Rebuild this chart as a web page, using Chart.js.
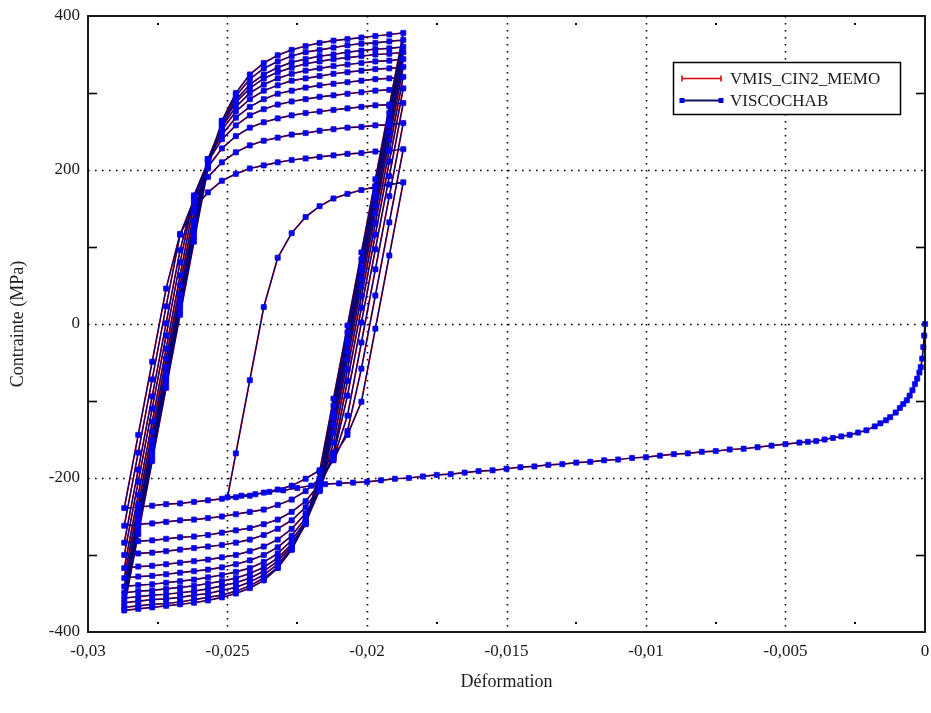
<!DOCTYPE html>
<html>
<head>
<meta charset="utf-8">
<script src="https://cdn.jsdelivr.net/npm/chart.js@4.4.1/dist/chart.umd.min.js"></script>
<style>
html,body{margin:0;padding:0;background:#fff;}
#wrap{position:relative;width:931px;height:713px;}
canvas{display:block;}
</style>
</head>
<body>
<div id="wrap"><canvas id="c" width="931" height="713" style="width:931px;height:713px"></canvas></div>
<script>
// ---------- data ----------
const seriesNames = ['VMIS_CIN2_MEMO', 'VISCOCHAB'];

// first monotonic compression (strain, stress MPa)
const monoStrain = [0,-0.00003,-0.00006,-0.0001,-0.00015,-0.0002,-0.00028,-0.00036,-0.00045,-0.00055,
  -0.00065,-0.00078,-0.0009,-0.00105,-0.00125,-0.0014,-0.0016,-0.0018,-0.0021,-0.0024,
  -0.0027,-0.003,-0.0033,-0.0036,-0.0039,-0.0042,-0.0045,-0.005,
  -0.0055,-0.006,-0.0065,-0.007,-0.0075,-0.008,-0.0085,-0.009,-0.0095,-0.01,
  -0.0105,-0.011,-0.0115,-0.012,-0.0125,-0.013,-0.0135,-0.014,-0.0145,-0.015,
  -0.0155,-0.016,-0.0165,-0.017,-0.0175,-0.018,-0.0185,-0.019,-0.0195,-0.02,
  -0.0205,-0.021,-0.0215,-0.022,-0.0225,-0.023,-0.0235,-0.024,-0.0245,-0.025];
const monoStress = [0,-15,-30,-45,-56,-63,-71,-78,-86,-93,
  -99,-104,-109,-115,-121,-125,-129,-133,-138,-141,
  -144,-146,-148,-150,-152,-153,-154,-156,
  -158,-160,-162,-163,-165,-166,-168,-169,-171,-173,
  -174,-176,-177,-179,-180,-182,-183,-185,-186,-188,
  -190,-191,-193,-195,-196,-198,-200,-201,-203,-205,
  -206,-207,-208,-210,-213,-216,-218,-221,-223,-225];

// first reversal (tension) from -0.025
const firstRiseStrain = [-0.025,-0.0247,-0.0242,-0.0237,-0.0232,-0.0227,-0.0222,-0.0217,-0.0212,-0.0207,-0.0202,-0.0197,-0.0192,-0.0187];
const firstRiseStress = [-225,-168,-73,22,86,118,139,153,163,169,174,178,181,184];

// strain stations of the cyclic branches
const riseStrain = [-0.0287,-0.0282,-0.0277,-0.0272,-0.0267,-0.0262,-0.0257,-0.0252,-0.0247,-0.0242,-0.0237,-0.0232,-0.0227,-0.0222,-0.0217,-0.0212,-0.0207,-0.0202,-0.0197,-0.0192,-0.0187];
const fallStrain = [-0.0187,-0.0192,-0.0197,-0.0202,-0.0207,-0.0212,-0.0217,-0.0222,-0.0227,-0.0232,-0.0237,-0.0242,-0.0247,-0.0252,-0.0257,-0.0262,-0.0267,-0.0272,-0.0277,-0.0282,-0.0287];

// descending branches (stress at fallStrain)
const fall1  = [184,89,-6,-101,-144,-172,-190,-201,-210,-215,-219,-223,-225,-227,-229,-231,-233,-234,-236,-238,-239];
const fall2  = [227,132,37,-58,-139,-177,-201,-217,-228,-235,-241,-244,-247,-250,-252,-254,-255,-257,-259,-260,-262];
const fall3  = [261,166,71,-24,-119,-175,-208,-230,-244,-254,-260,-265,-268,-271,-274,-276,-277,-279,-281,-282,-284];
const fall4  = [287,192,97,2,-93,-171,-212,-238,-255,-266,-274,-280,-284,-287,-289,-291,-293,-295,-297,-298,-300];
const fall5  = [306,211,116,21,-74,-167,-215,-246,-266,-280,-289,-295,-300,-303,-306,-308,-310,-312,-314,-315,-317];
const fall6  = [321,226,131,36,-59,-154,-217,-252,-275,-290,-300,-307,-312,-316,-319,-321,-323,-325,-327,-328,-330];
const fall7  = [334,239,144,49,-46,-141,-216,-256,-281,-298,-309,-317,-322,-326,-329,-332,-334,-336,-338,-339,-341];
const fall8  = [344,249,154,59,-36,-131,-216,-258,-286,-304,-316,-324,-330,-334,-337,-340,-342,-344,-346,-347,-349];
const fall9  = [353,258,163,68,-27,-122,-213,-259,-289,-308,-321,-330,-336,-340,-344,-347,-349,-351,-352,-354,-356];
const fall10 = [360,265,170,75,-20,-115,-210,-260,-292,-312,-326,-335,-342,-346,-350,-352,-355,-357,-358,-360,-362];
const fall11 = [369,274,179,84,-11,-106,-201,-259,-293,-316,-330,-340,-347,-352,-355,-358,-361,-363,-364,-366,-368];
const fall12 = [378,283,188,93,-2,-97,-192,-257,-293,-317,-333,-343,-350,-355,-359,-362,-364,-366,-368,-370,-372];

// ascending branches (stress at riseStrain)
const rise2  = [-239,-144,-49,46,117,150,171,186,195,202,206,210,213,215,217,219,221,222,224,225,227];
const rise3  = [-262,-167,-72,23,116,162,191,210,223,232,238,242,246,248,251,253,255,256,258,259,261];
const rise4  = [-284,-189,-94,1,96,166,204,228,244,255,262,267,271,274,276,278,280,282,284,285,287];
const rise5  = [-300,-205,-110,-15,80,167,211,240,258,271,279,285,289,292,295,297,299,301,303,304,306];
const rise6  = [-317,-222,-127,-32,63,158,213,246,268,282,292,299,303,307,310,312,314,316,318,319,321];
const rise7  = [-330,-235,-140,-45,50,145,214,252,276,292,303,310,316,319,322,325,327,329,331,332,334];
const rise8  = [-341,-246,-151,-56,39,134,214,256,282,300,311,319,325,329,332,335,337,339,341,342,344];
const rise9  = [-349,-254,-159,-64,31,126,214,259,288,306,319,327,333,338,341,344,346,348,350,351,353];
const rise10 = [-356,-261,-166,-71,24,119,213,260,291,311,324,333,340,344,348,350,353,355,357,358,360];
const rise11 = [-362,-267,-172,-77,18,113,208,263,296,318,332,341,348,353,356,359,362,364,365,367,369];
const rise12 = [-368,-273,-178,-83,12,107,202,264,300,324,339,349,356,361,365,368,370,372,374,376,378];

// axes
const xTicksMajor = [-0.025,-0.02,-0.015,-0.01,-0.005];
const xTicksMinor = [-0.0275,-0.0225,-0.0175,-0.0125,-0.0075,-0.0025];
const yTicksMajor = [200,0,-200];
const yTicksMinor = [300,100,-100,-300];

// ---------- build the load path ----------
function pairs(xs, ys){ return xs.map((x,i)=>({x:x, y:ys[i]})); }
const falls = [fall1,fall2,fall3,fall4,fall5,fall6,fall7,fall8,fall9,fall10,fall11,fall12];
const rises = [rise2,rise3,rise4,rise5,rise6,rise7,rise8,rise9,rise10,rise11,rise12];
const path = pairs(monoStrain, monoStress).concat(pairs(firstRiseStrain, firstRiseStress).slice(1));
falls.forEach((f,k)=>{
  path.push(...pairs(fallStrain, f).slice(1));
  if (rises[k]) path.push(...pairs(riseStrain, rises[k]).slice(1));
});

const FONT = "'Liberation Serif', 'Times New Roman', Times, serif";
function fmt(v){
  const r = Math.round(v*100000)/100000;
  return r === 0 ? '0' : String(r).replace('.', ',');
}

const deco = {
  id: 'deco',
  beforeDatasetsDraw(chart){
    const {ctx, chartArea:a, scales:{x, y}} = chart;
    ctx.save();
    ctx.strokeStyle = '#000';
    ctx.lineWidth = 1.6;
    ctx.setLineDash([1.6, 5.4]);
    xTicksMajor.forEach(v=>{
      const px = Math.round(x.getPixelForValue(v)) + 0.5;
      ctx.beginPath(); ctx.moveTo(px, a.top); ctx.lineTo(px, a.bottom); ctx.stroke();
    });
    yTicksMajor.forEach(v=>{
      const py = Math.round(y.getPixelForValue(v)) + 0.5;
      ctx.beginPath(); ctx.moveTo(a.left, py); ctx.lineTo(a.right, py); ctx.stroke();
    });
    ctx.restore();
  },
  afterDatasetsDraw(chart){
    const {ctx, chartArea:a, scales:{x, y}} = chart;
    ctx.save();
    ctx.setLineDash([]);
    ctx.strokeStyle = '#000';
    ctx.fillStyle = '#000';
    ctx.lineWidth = 1.8;
    ctx.strokeRect(a.left, a.top, a.right - a.left, a.bottom - a.top);
    ctx.lineWidth = 1.6;
    yTicksMinor.forEach(v=>{
      const py = Math.round(y.getPixelForValue(v)) + 0.5;
      ctx.beginPath(); ctx.moveTo(a.left, py); ctx.lineTo(a.left + 9, py); ctx.stroke();
      ctx.beginPath(); ctx.moveTo(a.right - 9, py); ctx.lineTo(a.right, py); ctx.stroke();
    });
    xTicksMinor.forEach(v=>{
      const px = Math.round(x.getPixelForValue(v));
      ctx.fillRect(px - 1, a.top + 7, 2, 2);
      ctx.fillRect(px - 1, a.bottom - 10, 2, 2);
    });
    // legend
    const lx = a.right - 252, ly = a.top + 46, lw = 227, lh = 52;
    ctx.fillStyle = '#fff';
    ctx.fillRect(lx, ly, lw, lh);
    ctx.strokeStyle = '#000';
    ctx.lineWidth = 1.5;
    ctx.strokeRect(lx + 0.5, ly + 0.5, lw, lh);
    const y1 = ly + 16.5, y2 = ly + 38.5;
    const sx1 = lx + 9, sx2 = lx + 48;
    // red sample
    ctx.strokeStyle = '#d00000';
    ctx.lineWidth = 1.5;
    ctx.beginPath(); ctx.moveTo(sx1, y1); ctx.lineTo(sx2, y1); ctx.stroke();
    [sx1, sx2].forEach(px=>{
      ctx.beginPath(); ctx.moveTo(px, y1 - 3); ctx.lineTo(px, y1 + 3); ctx.stroke();
    });
    // blue sample
    ctx.strokeStyle = '#101060';
    ctx.lineWidth = 2.2;
    ctx.beginPath(); ctx.moveTo(sx1, y2); ctx.lineTo(sx2, y2); ctx.stroke();
    ctx.fillStyle = '#0000e0';
    [sx1, sx2].forEach(px=>{ ctx.fillRect(px - 2.5, y2 - 2.5, 5, 5); });
    ctx.fillStyle = '#1a1a1a';
    ctx.font = '17px ' + FONT;
    ctx.textBaseline = 'middle';
    ctx.textAlign = 'left';
    ctx.fillText(seriesNames[0], lx + 57, y1 + 1);
    ctx.fillText(seriesNames[1], lx + 57, y2 + 1);
    ctx.restore();
  }
};

new Chart(document.getElementById('c'), {
  type: 'scatter',
  data: {
    datasets: [
      {
        label: seriesNames[1],
        data: path,
        showLine: true,
        order: 0,
        borderColor: '#000078',
        borderWidth: 1.2,
        pointStyle: 'rect',
        pointRadius: 3.7,
        pointBackgroundColor: '#0000f5',
        pointBorderColor: '#0000e0',
        pointBorderWidth: 0.5,
        tension: 0,
        clip: false
      },
      {
        label: seriesNames[0],
        data: path,
        showLine: true,
        order: 1,
        borderColor: '#e01010',
        borderWidth: 1.7,
        pointStyle: 'cross',
        pointRadius: 3,
        pointBorderColor: '#e01010',
        pointBorderWidth: 1,
        tension: 0,
        clip: false
      }
    ]
  },
  options: {
    responsive: false,
    animation: false,
    devicePixelRatio: 1,
    layout: { padding: { top: 16, right: 6, left: 0, bottom: 0 } },
    plugins: { legend: { display: false }, tooltip: { enabled: false } },
    scales: {
      x: {
        type: 'linear',
        min: -0.03, max: 0,
        ticks: { stepSize: 0.005, autoSkip: false, maxRotation: 0, minRotation: 0, padding: 9,
                 color: '#1a1a1a', font: { family: FONT, size: 17 }, callback: v => fmt(v) },
        grid: { display: false, drawTicks: false },
        border: { display: false },
        title: { display: true, text: 'Déformation', color: '#1a1a1a',
                 font: { family: FONT, size: 18 }, padding: { top: 0, bottom: 20 } },
        afterFit: s => { s.height = 81; s.paddingRight = 0; s.paddingLeft = 0; }
      },
      y: {
        type: 'linear',
        min: -400, max: 400,
        ticks: { stepSize: 200, padding: 8, color: '#1a1a1a', font: { family: FONT, size: 17 },
                 callback: v => String(v) },
        grid: { display: false, drawTicks: false },
        border: { display: false },
        title: { display: true, text: 'Contrainte (MPa)', color: '#1a1a1a',
                 font: { family: FONT, size: 18 }, padding: { top: 7, bottom: 0 } },
        afterFit: s => { s.width = 88; s.paddingTop = 0; s.paddingBottom = 0; }
      }
    }
  },
  plugins: [deco]
});
</script>
</body>
</html>
